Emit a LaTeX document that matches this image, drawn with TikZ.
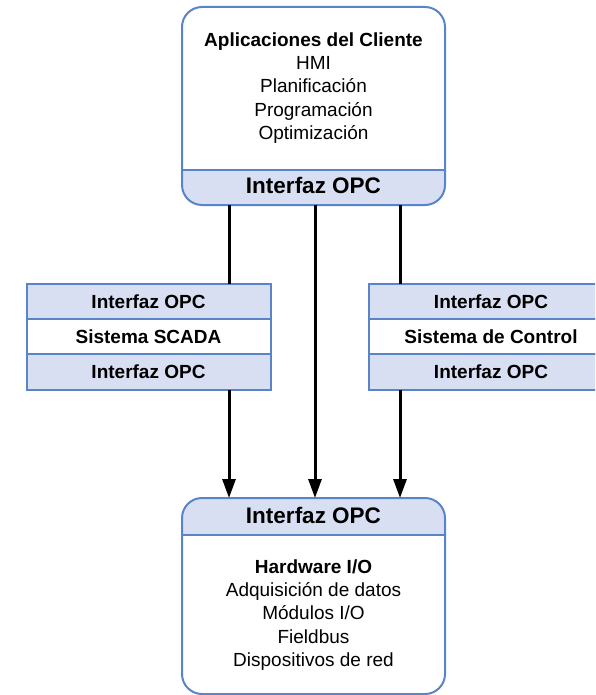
\documentclass[tikz,border=0pt]{standalone}
\usepackage{fontspec}
\setmainfont{Liberation Sans}
\usetikzlibrary{arrows.meta}
\definecolor{opcline}{HTML}{5A84C8}
\definecolor{opcfill}{HTML}{D9DFF3}
\tikzset{%
    capa/.style={draw=opcline,line width=2pt,minimum width=244pt,inner sep=0pt,outer sep=0pt,
        font=\bfseries\fontsize{19}{22}\selectfont},
    bloque/.style={minimum width=263pt,inner sep=0pt,outer sep=0pt}
}

\begin{document}
\begin{tikzpicture}[
                x=1pt,y=-1pt,
                borde/.style={draw=opcline,line width=2pt},
                txt/.style={align=center,font=\fontsize{19}{23.3}\selectfont},
                opctxt/.style={font=\bfseries\fontsize{22.5}{26}\selectfont},
                conn/.style={line width=3pt},
                flecha/.style={line width=3pt,-{Triangle[length=19pt,width=13pt]}}
            ]
            \clip (0,0) rectangle (595,695);
            \coordinate (colL) at (229,0);
            \coordinate (colM) at (315,0);
            \coordinate (colR) at (400,0);

            % cliente
            \node[bloque,minimum height=198pt] (cliente) at (313.5,106){};
            \begin{scope}
                \clip[rounded corners=20pt] (cliente.north west) rectangle (cliente.south east);
                \fill[opcfill] (cliente.south west) rectangle (445,170);
            \end{scope}
            \draw[borde] (182,170) -- (445,170);
            \draw[borde,rounded corners=20pt] (cliente.north west) rectangle (cliente.south east);
            \node[txt] (cliapps) at (313.5,88){\textbf{Aplicaciones del Cliente}\\HMI\\Planificación\\Programación\\Optimización};
            \node[opctxt] (cliopc) at (313.5,185){Interfaz OPC};

            % hardware
            \node[bloque,minimum height=196pt] (hardware) at (313.5,596){};
            \begin{scope}
                \clip[rounded corners=20pt] (hardware.north west) rectangle (hardware.south east);
                \fill[opcfill] (hardware.north west) rectangle (445,535);
            \end{scope}
            \draw[borde] (182,535) -- (445,535);
            \draw[borde,rounded corners=20pt] (hardware.north west) rectangle (hardware.south east);
            \node[opctxt] (hwopc) at (313.5,515){Interfaz OPC};
            \node[txt] (hwapps) at (313.5,615){\textbf{Hardware I/O}\\Adquisición de datos\\Módulos I/O\\Fieldbus\\Dispositivos de red};

            % SCADA
            \node[capa,fill=opcfill,minimum height=35pt] (scadaopc1) at (148.5,301.5){Interfaz OPC};
            \node[capa,fill=white,minimum height=35pt] (scada) at (148.5,336.5){Sistema SCADA};
            \node[capa,fill=opcfill,minimum height=36pt] (scadaopc2) at (148.5,372){Interfaz OPC};

            % control
            \node[capa,fill=opcfill,minimum height=35pt] (ctrlopc1) at (491,301.5){Interfaz OPC};
            \node[capa,fill=white,minimum height=35pt] (ctrl) at (491,336.5){Sistema de Control};
            \node[capa,fill=opcfill,minimum height=36pt] (ctrlopc2) at (491,372){Interfaz OPC};

            \draw[conn] (cliente.south -| colL) -- (scadaopc1.north -| colL);
            \draw[flecha] (scadaopc2.south -| colL) -- (hardware.north -| colL);
            \draw[flecha] (cliente.south -| colM) -- (hardware.north -| colM);
            \draw[conn] (cliente.south -| colR) -- (ctrlopc1.north -| colR);
            \draw[flecha] (ctrlopc2.south -| colR) -- (hardware.north -| colR);
        \end{tikzpicture}
\end{document}
